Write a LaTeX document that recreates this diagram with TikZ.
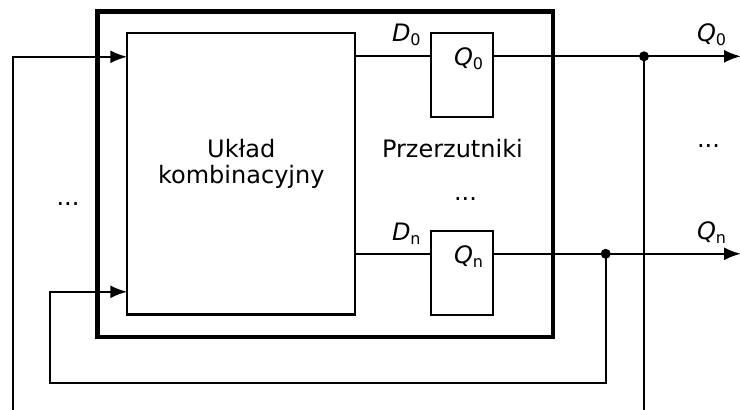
\documentclass[tikz,border=0pt]{standalone}
\usepackage{fontspec}
\setmainfont{DejaVu Sans}
\usetikzlibrary{arrows.meta}
\newcommand\subx[1]{\raisebox{-4pt}{\fontsize{16}{16}\selectfont #1}}
\begin{document}
\begin{tikzpicture}[x=1pt,y=-1pt, line width=2.3pt,
  every node/.style={font=\fontsize{24}{26}\selectfont, inner sep=0pt, outer sep=0pt},
  frame/.style={draw, line width=4.5pt, rectangle},
  blk/.style={draw, line width=2.3pt, rectangle},
  dot/.style={circle, fill, minimum size=10pt, inner sep=0pt},
  arr/.style={-{Latex[length=17pt,width=13pt]}},
  lbl/.style={anchor=base west},
  txt/.style={anchor=base}]
\useasboundingbox (0,0) rectangle (740,410);
% boxes
\node[frame, minimum width=455.7pt, minimum height=325.7pt] (outer) at (325.15,174.15) {};
\node[blk, minimum width=228pt, minimum height=281.2pt] (comb) at (241.3,173.9) {};
\node[blk, minimum width=61.4pt, minimum height=83.4pt] (ff0) at (462,75) {};
\node[blk, minimum width=61.4pt, minimum height=84pt] (ffn) at (462,273) {};
% pins and junctions
\coordinate (d0) at (431.3,56.3);
\coordinate (dn) at (431.3,253.8);
\coordinate (q0) at (492.7,56.3);
\coordinate (qn) at (492.7,253.8);
\coordinate (q0out) at (741,56.3);
\coordinate (qnout) at (741,253.8);
\coordinate (in0) at (127.3,56.8);
\coordinate (inn) at (127.3,291.8);
\coordinate (lb) at (12.7,411);
\coordinate (b0) at (644,411);
\coordinate (fbl) at (50.3,382.7);
\node[dot] (j0) at (644,56.3) {};
\node[dot] (jn) at (605.7,253.8) {};
% connectors
\draw (comb.east |- d0) -- (d0);
\draw (comb.east |- dn) -- (dn);
\draw[arr] (q0) -- (q0out);
\draw[arr] (qn) -- (qnout);
\draw (j0.center) -- (b0);
\draw[arr] (lb) |- (in0);
\draw[arr] (jn.center) |- (fbl) |- (inn);
% texts
\node[align=center] (combtxt) at (241.3,164) {Układ\\kombinacyjny};
\node[lbl] (ptxt) at (382,157) {Przerzutniki};
\node[txt] (dotsm) at (465.5,200) {...};
\node[txt] (dotsl) at (68,205) {...};
\node[txt] (dotsr) at (708.5,147) {...};
\node[lbl] (d0l) at (392,41.7) {\textit{D}\subx{0}};
\node[lbl] (dnl) at (392,240) {\textit{D}\subx{n}};
\node[lbl] (q0l) at (454,65.5) {\textit{Q}\subx{0}};
\node[lbl] (qnl) at (454,263.5) {\textit{Q}\subx{n}};
\node[lbl] (q0o) at (697,41) {\textit{Q}\subx{0}};
\node[lbl] (qno) at (697,239) {\textit{Q}\subx{n}};
\end{tikzpicture}
\end{document}
